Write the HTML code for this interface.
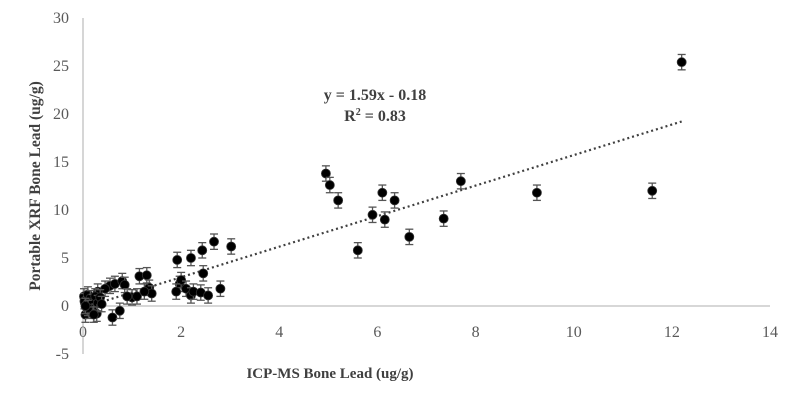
<!DOCTYPE html>
<html><head><meta charset="utf-8"><style>
body{margin:0;background:#fff;}
svg{display:block;font-family:"Liberation Serif",serif;}
</style></head><body>
<svg id="chart" width="800" height="402">
<g id="axes"></g><g id="trend"></g><g id="points"></g>
<text x="375" y="100" text-anchor="middle" font-size="16" font-weight="bold" fill="#404040">y = 1.59x - 0.18</text>
<text x="375" y="121" text-anchor="middle" font-size="16" font-weight="bold" fill="#404040">R<tspan font-size="10" dy="-6">2</tspan><tspan dy="6"> = 0.83</tspan></text>
<text x="330" y="378" text-anchor="middle" font-size="15" font-weight="bold" fill="#404040">ICP-MS Bone Lead (ug/g)</text>
<text transform="translate(40,186) rotate(-90)" text-anchor="middle" font-size="15.5" font-weight="bold" fill="#404040">Portable XRF Bone Lead (ug/g)</text>
</svg>
<script>
const xVals=[4.95,5.03,5.2,5.6,5.9,6.1,6.15,6.35,6.65,7.35,7.7,9.25,11.6,12.2,
2.67,3.02,2.43,2.2,1.92,2.45,1.97,2.0,1.9,2.1,2.2,2.25,2.4,2.55,2.8,
0.55,0.65,0.8,0.85,1.0,1.1,1.15,1.3,1.35,1.4,1.25,0.45,0.3,0.6,0.75,0.9,
0.02,0.03,0.05,0.08,0.1,0.12,0.15,0.18,0.2,0.25,0.28,0.3,0.35,0.1,0.22,0.05,0.38];
const yVals=[13.8,12.6,11.0,5.8,9.5,11.8,9.0,11.0,7.2,9.1,13.0,11.8,12.0,25.4,
6.7,6.2,5.8,5.0,4.8,3.4,2.3,2.7,1.5,1.8,1.1,1.5,1.4,1.1,1.8,
2.1,2.3,2.6,2.2,0.9,1.0,3.1,3.2,1.9,1.3,1.5,1.8,1.5,-1.2,-0.5,1.0,
1.0,0.5,-0.9,0.2,1.2,-0.5,0.8,-0.3,0.4,1.0,-0.8,0.3,0.9,-0.2,-0.9,0.0,0.2];
const errVal=0.8;
const xTicks=[0,2,4,6,8,10,12,14];
const yTicks=[-5,0,5,10,15,20,25,30];
const slope=1.59, intercept=-0.18;
const NS="http://www.w3.org/2000/svg";
const X=v=>83+v*(687/14);
const Y=v=>306-v*9.6;
function mk(t,a,p){const e=document.createElementNS(NS,t);for(const k in a)e.setAttribute(k,a[k]);p.appendChild(e);return e;}
const ax=document.getElementById('axes');
let l=mk('line',{x1:X(0),x2:X(14),y1:Y(0),y2:Y(0),stroke:'#bfbfbf','stroke-width':1.3},ax);


l=mk('line',{x1:X(0),x2:X(0),y1:Y(30),y2:Y(-5),stroke:'#bfbfbf','stroke-width':1.3},ax);


xTicks.forEach(v=>{const t=mk('text',{x:X(v),y:337,'text-anchor':'middle','font-size':16,fill:'#595959'},ax);t.textContent=v;

});
yTicks.forEach(v=>{const t=mk('text',{x:69,y:Y(v)+5,'text-anchor':'end','font-size':16,fill:'#595959'},ax);t.textContent=v;

});
const tr=mk('line',{x1:X(0),y1:Y(intercept),x2:X(12.2),y2:Y(slope*12.2+intercept),stroke:'#404040','stroke-width':2.2,'stroke-dasharray':'2 3'},document.getElementById('trend'));


const pg=document.getElementById('points');
xVals.forEach((xv,i)=>{const yv=yVals[i];const cx=X(xv),cy=Y(yv);
const g=mk('g',{},pg);


const s={stroke:'#555','stroke-width':1.3};
mk('line',Object.assign({x1:cx,x2:cx,y1:Y(yv+errVal),y2:Y(yv-errVal)},s),g);
mk('line',Object.assign({x1:cx-4,x2:cx+4,y1:Y(yv+errVal),y2:Y(yv+errVal)},s),g);
mk('line',Object.assign({x1:cx-4,x2:cx+4,y1:Y(yv-errVal),y2:Y(yv-errVal)},s),g);
mk('circle',{cx:cx,cy:cy,r:4.5,fill:'#000',stroke:'#333','stroke-width':0.8},g);});
</script>
</body></html>
